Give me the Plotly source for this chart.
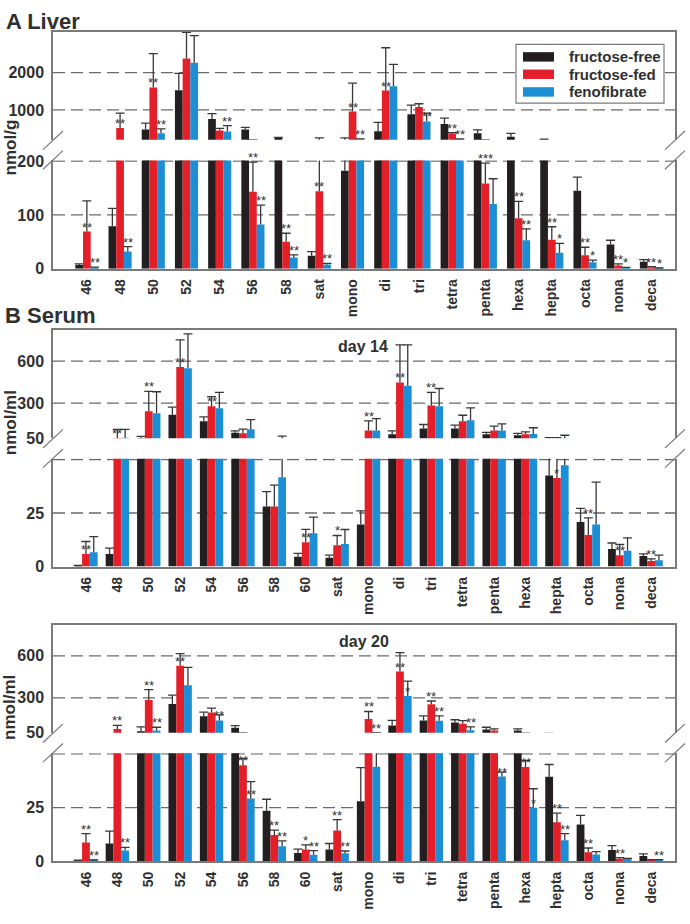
import plotly.graph_objects as go

FONT = "Liberation Sans, Arial, Helvetica, sans-serif"
TXT = "#303030"
ERR = "#383838"
FRAME = "#7a7a7a"
GRID = "#6a6a6a"

series_names = ["fructose-free", "fructose-fed", "fenofibrate"]
series_colors = ["#231f20", "#e3202a", "#1b8ed6"]

# ---------------- A Liver (nmol/g) ----------------
liver_cats = ["46", "48", "50", "52", "54", "56", "58", "sat", "mono", "di", "tri",
              "tetra", "penta", "hexa", "hepta", "octa", "nona", "deca"]
liver_free = [7, 79, 474, 1526, 755, 474, 250, 24, 182, 429, 887, 624, 376, 285, 212, 145, 45, 13]
liver_free_err = [2, 33, 176, 456, 148, 61, 15, 8, 72, 237, 245, 158, 89, 88, 5, 25, 8, 4]
liver_fed = [69, 518, 1605, 2377, 447, 143, 50, 144, 956, 1518, 1079, 360, 158, 94, 54, 25, 6, 3]
liver_fed_err = [57, 395, 903, 702, 61, 55, 16, 106, 762, 1148, 87, 30, 38, 31, 24, 15, 3, 1]
liver_feno = [2.5, 32, 376, 2263, 421, 82, 21, 8, 215, 1632, 692, 220, 120, 53, 30, 12, 2, 1]
liver_feno_err = [0.5, 9, 116, 729, 158, 36, 5, 2, 10, 587, 221, 5, 47, 21, 17, 4, 0.5, 0.5]
liver_stars = [
    ("46", 1, "**", "bar"), ("46", 2, "**", "err"),
    ("48", 1, "**", "bar"), ("48", 2, "**", "err"),
    ("50", 1, "**", "bar"), ("50", 2, "**", "err"),
    ("54", 2, "**", "err"),
    ("56", 1, "**", "err"), ("56", 2, "**", "err"),
    ("58", 1, "**", "err"), ("58", 2, "**", "err"),
    ("sat", 1, "**", "bar"), ("sat", 2, "**", "err"),
    ("mono", 1, "**", "bar"), ("mono", 2, "**", "err"),
    ("di", 1, "**", "bar"),
    ("tri", 2, "**", "bar"),
    ("tetra", 1, "**", "err"), ("tetra", 2, "**", "bar"),
    ("penta", 1, "***", "err"),
    ("hexa", 1, "**", "err"), ("hexa", 2, "**", "err"),
    ("hepta", 1, "**", "err"), ("hepta", 2, "*", "err"),
    ("octa", 1, "**", "err"), ("octa", 2, "*", "err"),
    ("nona", 1, "**", "err"), ("nona", 2, "*", "err"),
    ("deca", 1, "**", "err"), ("deca", 2, "*", "err"),
]

# ---------------- B Serum (nmol/ml) ----------------
serum_cats = ["46", "48", "50", "52", "54", "56", "58", "60", "sat", "mono", "di", "tri",
              "tetra", "penta", "hexa", "hepta", "octa", "nona", "deca"]

d14_free = [0.3, 5.9, 51, 218, 171, 89, 28, 4.6, 4.1, 19.6, 78, 120, 120, 78, 71, 42.5, 20.8, 8.2, 4.9]
d14_free_err = [0.2, 2.7, 13, 54, 31, 14, 7, 1.5, 1.2, 6.4, 25, 28, 23, 14, 14, 12, 6.4, 2.8, 1]
d14_fed = [5.9, 52, 242, 558, 279, 85, 28, 11.4, 9.9, 106, 448, 284, 171, 106, 78, 41.4, 14.7, 5.3, 2.6]
d14_fed_err = [5.8, 61, 142, 194, 68, 30, 10, 6, 4.6, 68, 269, 93, 43, 30, 18, 13, 8, 5, 1]
d14_feno = [6.7, 53, 228, 549, 265, 115, 41.7, 15.5, 10.5, 106, 424, 279, 178, 106, 81, 47.3, 19.6, 7.4, 2.9]
d14_feno_err = [7.3, 60, 154, 246, 112, 68, 24, 7.6, 6.8, 84, 293, 126, 89, 46, 44, 24, 19.8, 6, 2.4]
d14_stars = [
    ("46", 1, "**", "bar"), ("48", 1, "**", "bar"), ("50", 1, "**", "err"),
    ("52", 1, "**", "bar"), ("54", 1, "**", "bar"), ("60", 1, "**", "bar"),
    ("sat", 1, "*", "err"), ("mono", 1, "**", "err"), ("di", 1, "**", "bar"),
    ("tri", 1, "**", "err"), ("hepta", 1, "*", "bar"), ("octa", 1, "**", "err"),
    ("nona", 1, "**", "bar"), ("deca", 1, "**", "err"),
]

d20_free = [0.3, 8.3, 61, 256, 167, 85, 23.6, 3.9, 5.5, 28, 101, 138, 124, 73, 66, 39.4, 17.1, 5.3, 2.5]
d20_free_err = [0.2, 5.8, 31, 63, 30, 16, 5.3, 1.8, 2.8, 15.6, 38, 33, 19, 16, 12, 5.7, 4.3, 2, 1]
d20_fed = [8.8, 77, 284, 530, 195, 44.8, 12.3, 5.5, 14.4, 148, 488, 253, 115, 66, 43.9, 18.2, 4.2, 1.2, 0.5]
d20_fed_err = [4.1, 26, 75, 86, 31, 3, 2.2, 2.2, 5, 54, 135, 24, 21, 12, 3, 4.2, 2, 0.5, 0.3]
d20_feno = [0.5, 5, 66, 389, 138, 29.2, 7, 3, 3.8, 44.1, 312, 136, 68, 39.5, 25, 9.8, 3.2, 1, 0.5]
d20_feno_err = [0.2, 1.5, 23, 129, 40, 7.9, 2.5, 2, 1, 7, 107, 35, 24, 2, 8.8, 3.1, 1.3, 0.3, 0.3]
d20_stars = [
    ("46", 1, "**", "err"), ("46", 2, "**", "err"),
    ("48", 1, "**", "err"), ("48", 2, "**", "err"),
    ("50", 1, "**", "err"), ("50", 2, "**", "err"),
    ("52", 1, "**", "bar"), ("54", 2, "**", "bar"),
    ("56", 1, "**", "bar"), ("56", 2, "**", "bar"),
    ("58", 1, "**", "err"), ("58", 2, "**", "err"),
    ("60", 1, "*", "err"), ("60", 2, "**", "err"),
    ("sat", 1, "**", "err"), ("sat", 2, "**", "err"),
    ("mono", 1, "**", "err"), ("mono", 2, "**", "err"),
    ("di", 1, "**", "bar"), ("di", 2, "*", "bar"),
    ("tri", 1, "**", "err"), ("tri", 2, "**", "err"),
    ("tetra", 2, "**", "err"), ("penta", 2, "**", "bar"),
    ("hexa", 1, "**", "bar"), ("hexa", 2, "*", "bar"),
    ("hepta", 1, "**", "err"), ("hepta", 2, "**", "err"),
    ("octa", 1, "**", "err"), ("nona", 1, "**", "err"), ("deca", 2, "**", "err"),
]

# ---------------- layout geometry (pixels) ----------------
W, H = 690, 924
LPX, RPX = 53, 675


def fx(px):
    return (px - LPX) / (RPX - LPX)


def fy(py):
    return 1 - py / H


panels = [
    dict(cats=liver_cats,
         series=[(liver_free, liver_free_err), (liver_fed, liver_fed_err), (liver_feno, liver_feno_err)],
         brk=200, up_range=[200, 3100], lo_range=[0, 201],
         up_ticks=[1000, 2000], lo_ticks=[0, 100, 200],
         up_grid=[1000, 2000], lo_grid=[100, 200],
         up_px=(24, 134.3), lo_px=(155.3, 265.7), xr=[-1.02, 17.71], bw=0.232,
         stars=liver_stars, ytitle="nmol/g", ytitle_py=142, label=None),
    dict(cats=serum_cats,
         series=[(d14_free, d14_free_err), (d14_fed, d14_fed_err), (d14_feno, d14_feno_err)],
         brk=50, up_range=[50, 823], lo_range=[0, 50.3],
         up_ticks=[50, 300, 600], lo_ticks=[0, 25],
         up_grid=[300, 600], lo_grid=[25, 50],
         up_px=(328, 438.3), lo_px=(459.3, 569), xr=[-1.05, 18.76], bw=0.248,
         stars=d14_stars, ytitle="nmol/ml", ytitle_py=423, label=("day 14", 363, 345)),
    dict(cats=serum_cats,
         series=[(d20_free, d20_free_err), (d20_fed, d20_fed_err), (d20_feno, d20_feno_err)],
         brk=50, up_range=[50, 823], lo_range=[0, 50.3],
         up_ticks=[50, 300, 600], lo_ticks=[0, 25],
         up_grid=[300, 600], lo_grid=[25, 50],
         up_px=(628.3, 738.3), lo_px=(759.3, 869.3), xr=[-1.05, 18.76], bw=0.248,
         stars=d20_stars, ytitle="nmol/ml", ytitle_py=713, label=("day 20", 364, 645)),
]

fig = go.Figure()
shapes, annotations, axes = [], [], {}

for p, P in enumerate(panels):
    cats = P["cats"]
    n = len(cats)
    bw = P["bw"]
    subs = [
        (2 * p + 1, True, P["up_range"], P["up_ticks"], P["up_grid"], P["up_px"]),
        (2 * p + 2, False, P["lo_range"], P["lo_ticks"], P["lo_grid"], P["lo_px"]),
    ]
    for k, upper, yr, ticks, grid, (top_px, bot_px) in subs:
        xn = "x" if k == 1 else f"x{k}"
        yn = "y" if k == 1 else f"y{k}"
        for s in range(3):
            vals, errs = P["series"][s]
            off = (s - 1.5) * bw
            fig.add_trace(go.Bar(
                x=cats, y=vals, width=bw, offset=off, xaxis=xn, yaxis=yn,
                name=series_names[s], showlegend=False, hoverinfo="skip",
                marker=dict(color=series_colors[s], line=dict(width=0)),
                error_y=dict(type="data", symmetric=False, array=errs, arrayminus=[0] * n,
                             width=0, thickness=1.3, color=ERR)))
            tops = [v + e for v, e in zip(vals, errs)]
            fig.add_trace(go.Bar(
                x=cats, y=tops, width=bw, offset=off, xaxis=xn, yaxis=yn,
                showlegend=False, hoverinfo="skip",
                marker=dict(color="rgba(0,0,0,0)", line=dict(width=0)),
                error_y=dict(type="data", symmetric=False, array=[0] * n, arrayminus=[0] * n,
                             width=4.5, thickness=1.3, color=ERR)))
        axes[f"xaxis{k}"] = dict(
            domain=[0, 1], anchor=yn, type="category", range=P["xr"],
            showline=True, linecolor=FRAME, linewidth=1.5, ticks="", showgrid=False,
            zeroline=False, side="top" if upper else "bottom",
            showticklabels=not upper, tickangle=-90, ticklabelstandoff=3,
            tickfont=dict(family=FONT, size=14, color=TXT, weight="bold"), fixedrange=True)
        axes[f"yaxis{k}"] = dict(
            domain=[fy(bot_px), fy(top_px)], anchor=xn, range=yr,
            showline=True, mirror=True, linecolor=FRAME, linewidth=1.5,
            ticks="", showgrid=False, zeroline=False, tickmode="array", tickvals=ticks,
            ticktext=[str(t) for t in ticks], ticklabelstandoff=4,
            tickfont=dict(family=FONT, size=16, color=TXT, weight="bold"), fixedrange=True)
        for g in grid:
            shapes.append(dict(type="line", xref=f"{xn} domain", x0=0, x1=1, yref=yn, y0=g, y1=g,
                               line=dict(color=GRID, width=1.3, dash="12px,6px"), layer="below"))

    # significance stars
    for cat, s, txt, anchor in P["stars"]:
        i = cats.index(cat)
        vals, errs = P["series"][s]
        yv = vals[i] + (errs[i] if anchor == "err" else 0)
        k = 2 * p + 1 if yv >= P["brk"] else 2 * p + 2
        annotations.append(dict(
            x=i + (s - 1) * bw, y=yv, xref="x" if k == 1 else f"x{k}", yref="y" if k == 1 else f"y{k}",
            text=txt, showarrow=False, yanchor="bottom", xanchor="center", yshift=-5,
            font=dict(family=FONT, size=13, color=TXT)))

    # axis break slashes
    ub = P["up_px"][1]
    for edge in (LPX, RPX):
        for j in range(2):
            shapes.append(dict(type="line", xref="paper", yref="paper",
                               x0=fx(edge + 10), y0=fy(ub - 9 + 20 * j),
                               x1=fx(edge - 10), y1=fy(ub + 10 + 20 * j),
                               line=dict(color=FRAME, width=1.2)))

    # y title
    annotations.append(dict(x=fx(10), y=fy(P["ytitle_py"]), xref="paper", yref="paper",
                            text=P["ytitle"], textangle=-90, showarrow=False,
                            xanchor="center", yanchor="middle",
                            font=dict(family=FONT, size=17, color=TXT, weight="bold")))
    if P["label"]:
        t, lx, ly = P["label"]
        annotations.append(dict(x=fx(lx), y=fy(ly), xref="paper", yref="paper", text=t,
                                showarrow=False, xanchor="center", yanchor="middle",
                                font=dict(family=FONT, size=16, color=TXT, weight="bold")))

# panel titles
for t, tx, ty in [("A Liver", 4, 14), ("B Serum", 3, 313)]:
    annotations.append(dict(x=fx(tx), y=fy(ty), xref="paper", yref="paper", text=t,
                            showarrow=False, xanchor="left", yanchor="middle",
                            font=dict(family=FONT, size=22, color=TXT, weight="bold")))

# legend (drawn)
shapes.append(dict(type="rect", xref="paper", yref="paper", x0=fx(516), x1=fx(664),
                   y0=fy(97), y1=fy(37), line=dict(color=FRAME, width=1.2),
                   fillcolor="white", layer="above"))
for s, cy in enumerate([49.8, 67.5, 85.5]):
    shapes.append(dict(type="rect", xref="paper", yref="paper", x0=fx(523), x1=fx(554),
                       y0=fy(cy + 4.8), y1=fy(cy - 4.8), line=dict(width=0),
                       fillcolor=series_colors[s], layer="above"))
    annotations.append(dict(x=fx(567), y=fy(cy), xref="paper", yref="paper",
                            text=series_names[s], showarrow=False, xanchor="left",
                            yanchor="middle",
                            font=dict(family=FONT, size=15, color=TXT, weight="bold")))

fig.update_layout(
    width=W, height=H, margin=dict(l=LPX, r=W - RPX, t=0, b=0),
    paper_bgcolor="white", plot_bgcolor="white", barmode="overlay",
    showlegend=False, shapes=shapes, annotations=annotations,
    font=dict(family=FONT, color=TXT), **axes)

fig.write_html("out.html", config={"displayModeBar": False},
               post_script="document.body.style.margin='0px';")
